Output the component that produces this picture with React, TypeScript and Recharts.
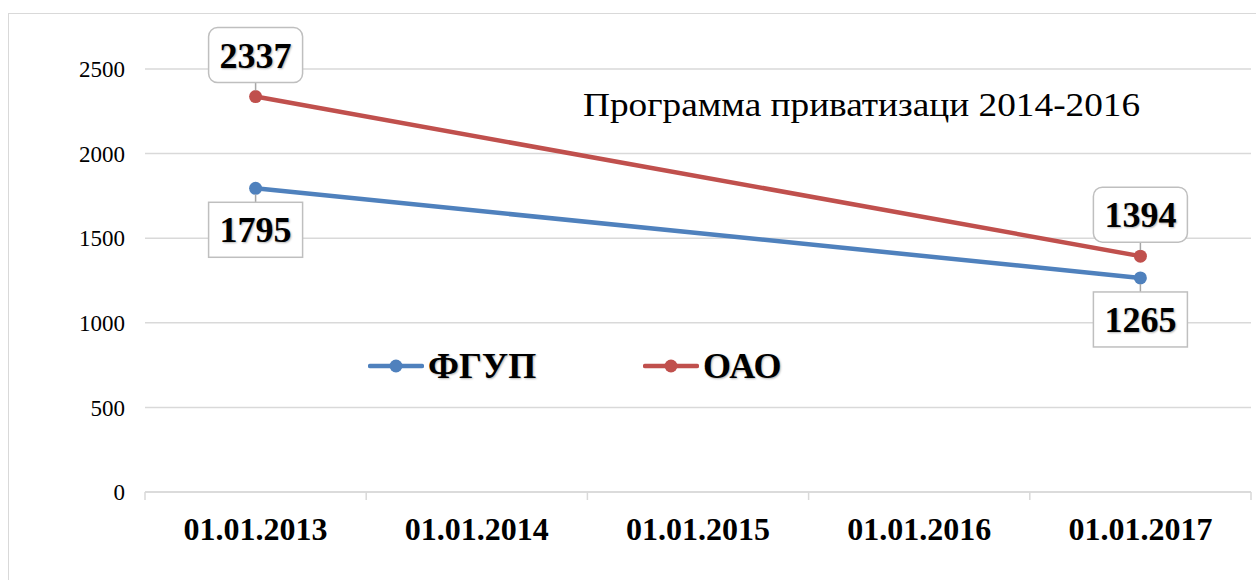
import React from 'react'
import { CartesianGrid, LabelList, Legend, Line, LineChart, XAxis, YAxis } from 'recharts'

const categories = ['01.01.2013', '01.01.2014', '01.01.2015', '01.01.2016', '01.01.2017']
const fgupValues = [1795, null, null, null, 1265]
const oaoValues = [2337, null, null, null, 1394]
const yTicks = [0, 500, 1000, 1500, 2000, 2500]

const seriesOrder = ['fgup', 'oao']
const seriesNames = { fgup: 'ФГУП', oao: 'ОАО' }
const BLUE = '#4f81bd'
const RED = '#c0504d'
const GRID = '#d9d9d9'
const FONT = '"Liberation Serif", "Times New Roman", serif'

const W = 1247
const H = 566
const Y_WIDTH = 136
const RIGHT = 5
const BAND = (W - Y_WIDTH - RIGHT) / categories.length

const data = categories.map((c, i) => ({
  date: c,
  fgup: fgupValues[i],
  oao: oaoValues[i],
}))

// подписи по оси X по центру, засечки на границах категорий
function XTick(props: any) {
  const { x, y, payload, index } = props
  return (
    <g>
      <text x={x} y={y + 48} textAnchor="middle" fontFamily={FONT} fontSize={32} fontWeight="bold" fill="#000">
        {payload.value}
      </text>
      <line x1={x - BAND / 2} x2={x - BAND / 2} y1={y} y2={y + 8} stroke={GRID} strokeWidth={1.5} />
      {index === categories.length - 1 && (
        <line x1={x + BAND / 2} x2={x + BAND / 2} y1={y} y2={y + 8} stroke={GRID} strokeWidth={1.5} />
      )}
    </g>
  )
}

const makeLabel = (above: boolean, rounded: boolean) => (props: any) => {
  const { x, y, value } = props
  if (value === null || value === undefined) return null
  const w = 94
  const h = 55
  const gap = 14
  const top = above ? y - gap - h : y + gap
  return (
    <g>
      <line x1={x} x2={x} y1={above ? y - 6 : y + 6} y2={above ? top + h : top} stroke="#a6a6a6" strokeWidth={1.5} />
      <rect x={x - w / 2} y={top} width={w} height={h} rx={rounded ? 9 : 0} fill="#fff" stroke="#bfbfbf" strokeWidth={1.5} />
      <text
        x={x}
        y={top + h / 2 + 12.5}
        textAnchor="middle"
        fontFamily={FONT}
        fontSize={36}
        fontWeight="bold"
        fill="#000"
        style={{ textShadow: '1px 1px 2px rgba(0,0,0,0.3)' }}
      >
        {value}
      </text>
    </g>
  )
}

function LegendContent(props: any) {
  const items = [...(props.payload || [])].sort(
    (a: any, b: any) => seriesOrder.indexOf(a.dataKey) - seriesOrder.indexOf(b.dataKey)
  )
  return (
    <div style={{ display: 'flex', alignItems: 'center' }}>
      {items.map((it: any) => (
        <div key={it.dataKey} style={{ display: 'flex', alignItems: 'center', width: 275, height: 40 }}>
          <svg width={56} height={40}>
            <line x1={2} x2={54} y1={20} y2={20} stroke={it.color} strokeWidth={4.5} strokeLinecap="round" />
            <circle cx={28} cy={20} r={6.5} fill={it.color} />
          </svg>
          <span
            style={{
              fontFamily: FONT,
              fontSize: 36,
              fontWeight: 'bold',
              marginLeft: 4,
              color: '#000',
              textShadow: '1px 1px 2px rgba(0,0,0,0.3)',
            }}
          >
            {it.value}
          </span>
        </div>
      ))}
    </div>
  )
}

export default function App() {
  return (
    <div
      style={{
        position: 'absolute',
        left: 8,
        top: 13,
        width: 1248,
        height: 567,
        borderTop: `1px solid ${GRID}`,
        borderLeft: `1px solid ${GRID}`,
        boxSizing: 'border-box',
        background: '#fff',
      }}
    >
      <LineChart width={W} height={H} data={data} margin={{ top: 55, right: RIGHT, left: 0, bottom: 28 }}>
        <CartesianGrid vertical={false} stroke={GRID} strokeWidth={1.5} />
        <XAxis
          dataKey="date"
          scale="band"
          height={60}
          interval={0}
          axisLine={{ stroke: GRID, strokeWidth: 1.5 }}
          tickLine={false}
          tickSize={0}
          tickMargin={0}
          tick={<XTick />}
        />
        <YAxis
          width={Y_WIDTH}
          domain={[0, 2500]}
          ticks={yTicks}
          axisLine={false}
          tickLine={false}
          tickSize={0}
          tickMargin={20}
          tick={{ fontFamily: FONT, fontSize: 23, fill: '#000' }}
        />
        <Legend
          layout="horizontal"
          align="center"
          verticalAlign="middle"
          wrapperStyle={{ position: 'absolute', left: 359, top: 332, width: 600 }}
          content={<LegendContent />}
        />
        <Line
          name={seriesNames.fgup}
          dataKey="fgup"
          stroke={BLUE}
          strokeWidth={4.5}
          connectNulls
          dot={{ r: 6.5, fill: BLUE, stroke: BLUE, strokeWidth: 0 }}
          activeDot={false}
          isAnimationActive={false}
        >
          <LabelList dataKey="fgup" content={makeLabel(false, false)} />
        </Line>
        <Line
          name={seriesNames.oao}
          dataKey="oao"
          stroke={RED}
          strokeWidth={4.5}
          connectNulls
          dot={{ r: 6.5, fill: RED, stroke: RED, strokeWidth: 0 }}
          activeDot={false}
          isAnimationActive={false}
        >
          <LabelList dataKey="oao" content={makeLabel(true, true)} />
        </Line>
      </LineChart>
      <div
        style={{
          position: 'absolute',
          left: 574,
          top: 73,
          fontFamily: FONT,
          fontSize: 33,
          color: '#000',
          whiteSpace: 'nowrap',
          transform: 'scaleX(1.13)',
          transformOrigin: 'left center',
        }}
      >
        Программа приватизаци 2014-2016
      </div>
    </div>
  )
}
